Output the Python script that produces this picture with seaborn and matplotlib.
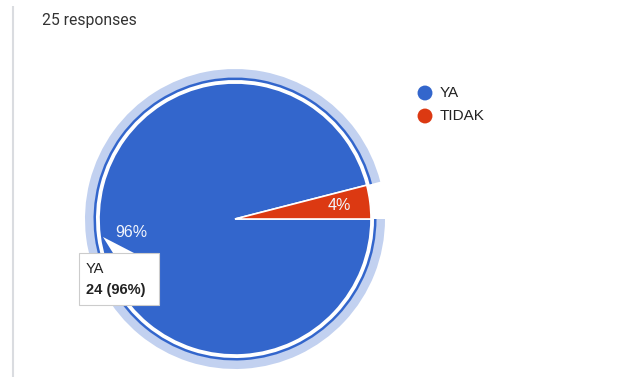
import numpy as np
import matplotlib
matplotlib.use("Agg")
import matplotlib.pyplot as plt
from matplotlib.patches import Wedge, FancyBboxPatch, Polygon
import seaborn as sns

labels = ["YA", "TIDAK"]
counts = [24, 1]
colors = ["#3366CC", "#DC3912"]
title = "25 responses"
hover_label = "YA"

sns.set_theme(style="white")
plt.rcParams['font.family'] = ['Liberation Sans', 'DejaVu Sans']

W, H = 622, 382
fig = plt.figure(figsize=(W / 100, H / 100), dpi=100)
ax = fig.add_axes([0, 0, 1, 1])

def py(y):
    # pixel row (from top) -> data y
    return H - y

cx, cy, r = 235, py(219), 136
total = sum(counts)
start = 360 * counts[1] / total

wedges, texts, autotexts = ax.pie(
    counts, colors=colors, startangle=start, counterclock=True,
    center=(cx, cy), radius=r, autopct="%1.0f%%", pctdistance=0.77,
    wedgeprops=dict(edgecolor="white", linewidth=1.2),
    textprops=dict(color="white", fontsize=11.5), frame=True)
for t in autotexts:
    t.set_color("#F2F5FC")
ax.set_xlim(0, W)
ax.set_ylim(0, H)
ax.set_aspect("equal")
ax.axis("off")

# hover highlight ring on the hovered slice
i = labels.index(hover_label)
th1, th2 = wedges[i].theta1, wedges[i].theta2
ax.add_patch(Wedge((cx, cy), 150, th1, th2, width=9, facecolor="#C2D1F0", edgecolor="none"))
ax.add_patch(Wedge((cx, cy), 141.5, th1, th2, width=2.5, facecolor="#3366CC", edgecolor="none"))

# left rule
ax.plot([13, 13], [py(6), py(377)], color="#DADCE0", lw=1.5, solid_capstyle="butt")

ax.text(42, py(20), title, fontsize=11.3, color="#333333", va="center", ha="left",
        family=["Roboto", "DejaVu Sans"])

# legend
for k, (lab, col) in enumerate(zip(labels, colors)):
    yy = py(93 + 23 * k)
    ax.scatter([425], [yy], s=115, color=col, edgecolor="none", zorder=5)
    ax.text(440, yy, lab, fontsize=11, color="#222222", va="center", ha="left")

# tooltip
ax.add_patch(Polygon([[103, py(237)], [113, py(253)], [134, py(253)]],
                     closed=True, facecolor="white", edgecolor="none", zorder=6))
box = FancyBboxPatch((79, py(305)), 80, 52, boxstyle="square,pad=0",
                     facecolor="white", edgecolor="#CCCCCC", linewidth=0.8, zorder=6)
ax.add_patch(box)
pct = 100 * counts[i] / total
ax.text(86, py(269), hover_label, fontsize=10.5, color="#222222", va="center", ha="left", zorder=7)
ax.text(86, py(290), f"{counts[i]} ({pct:.0f}%)", fontsize=10.5, fontweight="bold",
        color="#222222", va="center", ha="left", zorder=7)

fig.savefig("out.png", dpi=100)
